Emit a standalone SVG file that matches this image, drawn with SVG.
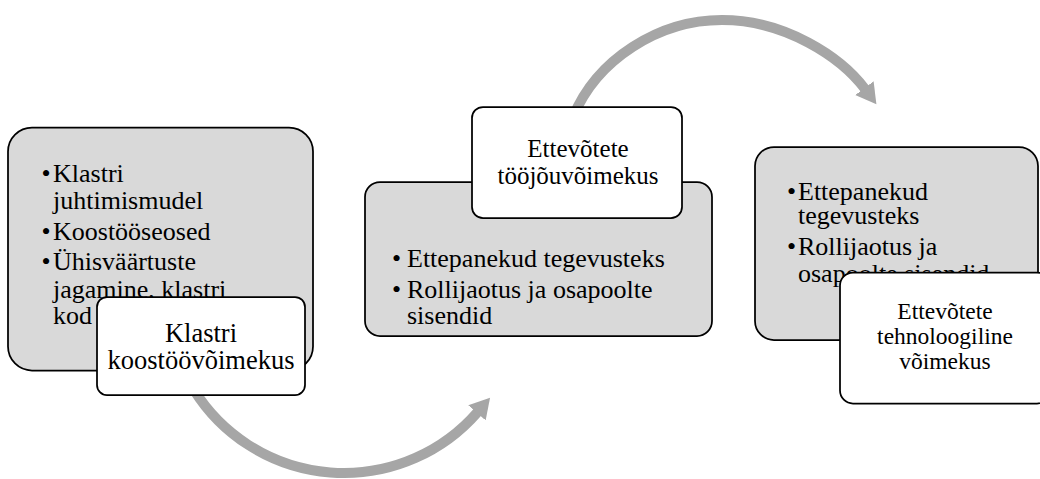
<svg xmlns="http://www.w3.org/2000/svg" width="1040" height="479" viewBox="0 0 1040 479">
  <style>
    .panel { fill: #d9d9d9; stroke: #000; stroke-width: 1.75; }
    .label { fill: #fff; stroke: #000; stroke-width: 1.75; }
    text { font-family: "Liberation Serif", "Times New Roman", serif; fill: #000; }
    .body { font-size: 26px; }
    .title { text-anchor: middle; }
    .flow { fill: none; stroke: #a6a6a6; stroke-width: 10; marker-end: url(#head); }
  </style>
  <defs>
    <marker id="head" markerUnits="userSpaceOnUse" viewBox="-1 -12 21 24" markerWidth="21" markerHeight="24" refX="0" refY="0" orient="auto">
      <path d="M-1,-11.5 L19,0 L-1,11.5 Z" fill="#a6a6a6"/>
    </marker>
  </defs>

  <!-- curved flow arrows, drawn beneath the boxes -->
  <g id="connectors">
    <path class="flow" d="M194,390 A177,177 0 0 0 477.6,412.1"/>
    <path class="flow" d="M573,117 C597,59 659,20 722,20 C785,20 841,57 865,89"/>
  </g>

  <!-- step 1 -->
  <g id="node-1">
    <rect class="panel" x="8" y="127.5" width="305" height="243" rx="24"/>
    <g class="body">
      <text x="41.5" y="182">•</text><text x="53" y="182">Klastri</text>
      <text x="53" y="209">juhtimismudel</text>
      <text x="41.5" y="240">•</text><text x="53" y="240">Koostööseosed</text>
      <text x="41.5" y="270">•</text><text x="53" y="270">Ühisväärtuste</text>
      <text x="53" y="298">jagamine, klastri</text>
      <text x="53" y="324">kod</text>
    </g>
  </g>
  <g id="node-1-label">
    <rect class="label" x="97" y="297" width="208" height="98" rx="10"/>
    <text class="title" x="201" y="342" font-size="26.5">Klastri</text>
    <text class="title" x="201" y="368.5" font-size="26.5">koostöövõimekus</text>
  </g>

  <!-- step 2 -->
  <g id="node-2">
    <rect class="panel" x="365" y="182" width="347" height="154" rx="15"/>
    <g class="body">
      <text x="392" y="267">•</text><text x="407" y="267">Ettepanekud tegevusteks</text>
      <text x="392" y="298">•</text><text x="407" y="298">Rollijaotus ja osapoolte</text>
      <text x="407" y="323.5">sisendid</text>
    </g>
  </g>
  <g id="node-2-label">
    <rect class="label" x="472" y="107" width="210" height="111" rx="11"/>
    <text class="title" x="578" y="157" font-size="25">Ettevõtete</text>
    <text class="title" x="578" y="183.5" font-size="25">tööjõuvõimekus</text>
  </g>

  <!-- step 3 -->
  <g id="node-3">
    <rect class="panel" x="755" y="147" width="283" height="193" rx="19"/>
    <g class="body">
      <text x="787" y="200">•</text><text x="798" y="200">Ettepanekud</text>
      <text x="798" y="224">tegevusteks</text>
      <text x="787" y="255">•</text><text x="798" y="255">Rollijaotus ja</text>
      <text x="798" y="282">osapoolte sisendid</text>
    </g>
  </g>
  <g id="node-3-label">
    <rect class="label" x="840" y="272.5" width="210" height="131" rx="13"/>
    <text class="title" x="945" y="318.5" font-size="23.5">Ettevõtete</text>
    <text class="title" x="945" y="343.5" font-size="23.5">tehnoloogiline</text>
    <text class="title" x="945" y="368.5" font-size="23.5">võimekus</text>
  </g>
</svg>
